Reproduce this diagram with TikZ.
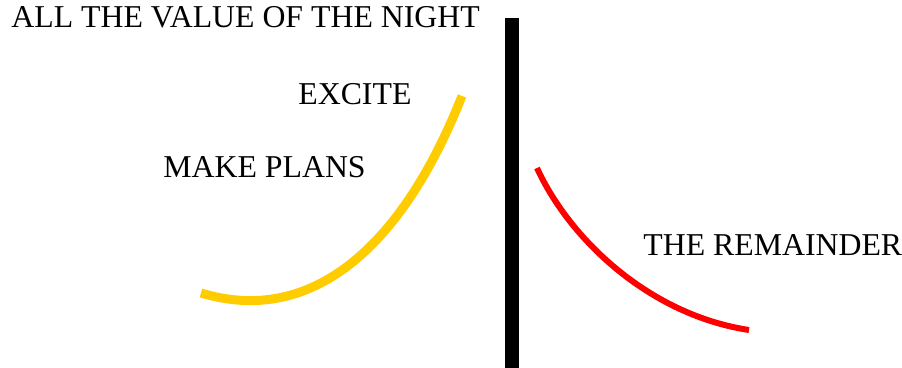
\documentclass[tikz,border=0pt]{standalone}
\usepackage{fontspec}
\setmainfont{Liberation Serif}
\usetikzlibrary{positioning}
\definecolor{excited}{HTML}{FFCC00}
\definecolor{remain}{HTML}{FF0000}
\tikzset{
  lbl/.style={anchor=base west, inner sep=0pt, font=\fontsize{15.9}{19}\selectfont},
  divider/.style={draw=black, line width=7pt},
  rise/.style={draw=excited, line width=4.5pt},
  fall/.style={draw=remain, line width=3pt},
}

\begin{document}
\begin{tikzpicture}[x=0.5pt, y=-0.5pt]
  \useasboundingbox (0,0) rectangle (902,368);

  % Divider
  \draw[divider] (512,18) -- (512,368);

  % Curves
  \draw[rise] (201,293) .. controls (310,326) and (401,250) .. (462,96);
  \draw[fall] (537,168) .. controls (570,240) and (650,315) .. (749,330);

  % Labels
  \node[lbl] (night) at (11,28) {ALL THE VALUE OF THE NIGHT};
  \node[lbl] (excite) at (298,105) {EXCITE};
  \node[lbl] (plans) at (163,178) {MAKE PLANS};
  \node[lbl] (remainder) at (643,256) {THE REMAINDER};
\end{tikzpicture}
\end{document}
